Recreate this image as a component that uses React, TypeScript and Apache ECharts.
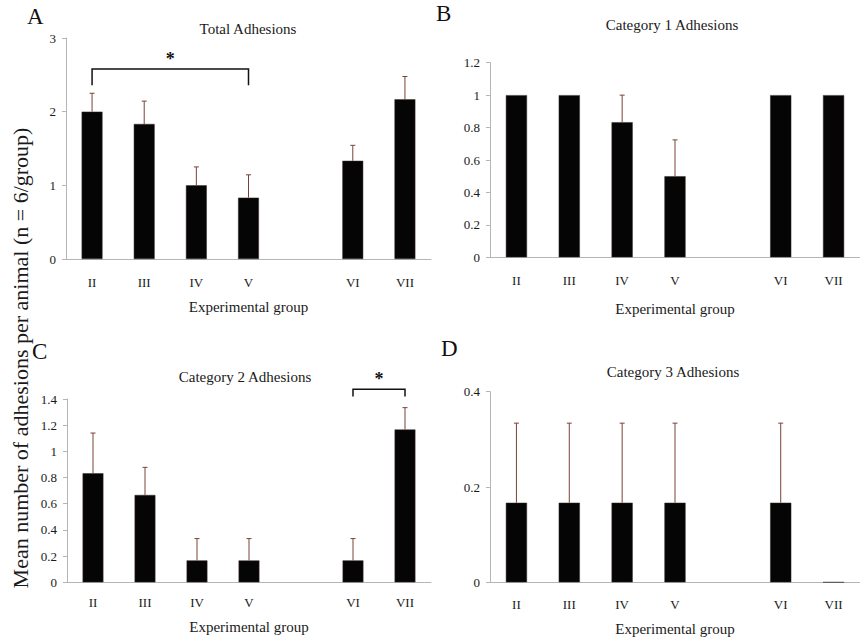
import React, { useEffect, useRef } from "react";
import * as echarts from "echarts";

const groups = ["II", "III", "IV", "V", "", "VI", "VII"];

const totalMean = [2.0, 1.833, 1.0, 0.833, null, 1.333, 2.167];
const totalSE = [0.25, 0.31, 0.25, 0.31, null, 0.21, 0.31];

const cat1Mean = [1, 1, 0.833, 0.5, null, 1, 1];
const cat1SE = [0, 0, 0.167, 0.224, null, 0, 0];

const cat2Mean = [0.833, 0.667, 0.167, 0.167, null, 0.167, 1.167];
const cat2SE = [0.307, 0.211, 0.167, 0.167, null, 0.167, 0.167];

const cat3Mean = [0.167, 0.167, 0.167, 0.167, null, 0.167, 0];
const cat3SE = [0.167, 0.167, 0.167, 0.167, null, 0.167, 0];

const titles = ["Total Adhesions", "Category 1 Adhesions", "Category 2 Adhesions", "Category 3 Adhesions"];
const panelLetters = ["A", "B", "C", "D"];
const xName = "Experimental group";
const yName = "Mean number of adhesions per animal (n = 6/group)";

// significance brackets: [fromIndex, toIndex, barY, dropY]
const bracketA = [[0, 3, 2.58, 2.36]];
const bracketC = [[5, 6, 1.475, 1.42]];

const FONT = '"Liberation Serif", "Times New Roman", serif';
const ERR_COLOR = "#7a4236";
const AXIS_COLOR = "#b5b5b5";

export default function App() {
  const ref = useRef<HTMLDivElement>(null);
  useEffect(() => {
    document.body.style.margin = "0";
    const chart = echarts.init(ref.current!, null, { renderer: "svg" });

    const grids = [
      { left: 66, top: 38, width: 365, height: 221 },
      { left: 490, top: 62.7, width: 379, height: 194.6 },
      { left: 67, top: 399, width: 364, height: 183.3 },
      { left: 490, top: 391.7, width: 379, height: 190.6 },
    ];
    const yRanges = [
      { max: 3, interval: 1 },
      { max: 1.2, interval: 0.2 },
      { max: 1.4, interval: 0.2 },
      { max: 0.4, interval: 0.2 },
    ];
    const labelMargins = [17, 17, 14, 16];
    const nameGaps = [40, 44, 37, 39];
    const means = [totalMean, cat1Mean, cat2Mean, cat3Mean];
    const ses = [totalSE, cat1SE, cat2SE, cat3SE];

    const xAxes = grids.map((_, i) => ({
      type: "category",
      gridIndex: i,
      data: groups,
      axisLine: { lineStyle: { color: AXIS_COLOR, width: 1 } },
      axisTick: { show: false },
      axisLabel: { color: "#1a1a1a", fontFamily: FONT, fontSize: 13, margin: labelMargins[i], interval: 0 },
      name: xName,
      nameLocation: "middle",
      nameGap: nameGaps[i],
      nameTextStyle: { color: "#1a1a1a", fontFamily: FONT, fontSize: 15 },
    }));
    const yAxes = grids.map((_, i) => ({
      type: "value",
      gridIndex: i,
      min: 0,
      max: yRanges[i].max,
      interval: yRanges[i].interval,
      splitLine: { show: false },
      axisLine: { show: true, lineStyle: { color: AXIS_COLOR, width: 1 } },
      axisTick: { show: true, length: 4, lineStyle: { color: AXIS_COLOR } },
      axisLabel: { color: "#1a1a1a", fontFamily: FONT, fontSize: 13, margin: 10 },
    }));

    const series: any[] = [];
    means.forEach((m, i) => {
      series.push({
        type: "bar",
        xAxisIndex: i,
        yAxisIndex: i,
        data: m,
        barWidth: "40%",
        itemStyle: { color: "#050505", borderColor: "#3a2a24", borderWidth: 0.5 },
        silent: true,
      });
      const errData = m
        .map((v, k) => (v === null ? null : [k, v, ses[i][k]]))
        .filter((d) => d !== null);
      series.push({
        type: "custom",
        xAxisIndex: i,
        yAxisIndex: i,
        data: errData,
        encode: { x: 0, y: 1 },
        z: 5,
        renderItem: (params: any, api: any) => {
          const x = api.value(0);
          const v = api.value(1);
          const se = api.value(2);
          if (!se || se <= 0) return null;
          const base = api.coord([x, v]);
          const top = api.coord([x, v + se]);
          const style = { stroke: ERR_COLOR, lineWidth: 1 };
          return {
            type: "group",
            children: [
              { type: "line", shape: { x1: base[0], y1: base[1], x2: top[0], y2: top[1] }, style },
              { type: "line", shape: { x1: top[0] - 2.5, y1: top[1], x2: top[0] + 2.5, y2: top[1] }, style },
            ],
          };
        },
      });
    });

    const bracketSeries = (axisIndex: number, data: number[][]) => ({
      type: "custom",
      xAxisIndex: axisIndex,
      yAxisIndex: axisIndex,
      data,
      encode: { x: 0, y: 2 },
      z: 6,
      renderItem: (params: any, api: any) => {
        const a = api.value(0);
        const b = api.value(1);
        const y = api.value(2);
        const d = api.value(3);
        const p1 = api.coord([a, y]);
        const p2 = api.coord([b, y]);
        const q1 = api.coord([a, d]);
        const q2 = api.coord([b, d]);
        const style = { stroke: "#111", lineWidth: 1.5, fill: null };
        return {
          type: "group",
          children: [
            { type: "polyline", shape: { points: [q1, p1, p2, q2] }, style },
            {
              type: "text",
              style: {
                text: "*",
                x: (p1[0] + p2[0]) / 2,
                y: p1[1] - 1,
                align: "center",
                verticalAlign: "bottom",
                fontFamily: FONT,
                fontSize: 18,
                fontWeight: "bold",
                fill: "#111",
              },
            },
          ],
        };
      },
    });
    series.push(bracketSeries(0, bracketA));
    series.push(bracketSeries(2, bracketC));

    const titleCenters = [
      { x: 248, top: 21 },
      { x: 672, top: 17 },
      { x: 245, top: 369 },
      { x: 673, top: 364 },
    ];
    const letterPos = [
      { left: 27, top: 5 },
      { left: 436, top: 2 },
      { left: 32, top: 340 },
      { left: 441, top: 337 },
    ];
    const titleComps: any[] = [];
    titles.forEach((t, i) => {
      titleComps.push({
        text: t,
        left: titleCenters[i].x,
        top: titleCenters[i].top,
        textAlign: "center",
        padding: 0,
        textStyle: { fontFamily: FONT, fontSize: 15, fontWeight: "normal", color: "#1a1a1a" },
      });
    });
    panelLetters.forEach((t, i) => {
      titleComps.push({
        text: t,
        left: letterPos[i].left,
        top: letterPos[i].top,
        padding: 0,
        textStyle: { fontFamily: FONT, fontSize: 23, fontWeight: "normal", color: "#111" },
      });
    });

    chart.setOption({
      animation: false,
      backgroundColor: "#ffffff",
      title: titleComps,
      grid: grids,
      xAxis: xAxes,
      yAxis: yAxes,
      series,
      graphic: [
        {
          type: "text",
          x: 20,
          y: 358,
          rotation: Math.PI / 2,
          style: {
            text: yName,
            align: "center",
            verticalAlign: "middle",
            fontFamily: FONT,
            fontSize: 22,
            fill: "#1a1a1a",
          },
        },
      ],
    });
    return () => chart.dispose();
  }, []);
  return <div ref={ref} style={{ width: 860, height: 641 }} />;
}
